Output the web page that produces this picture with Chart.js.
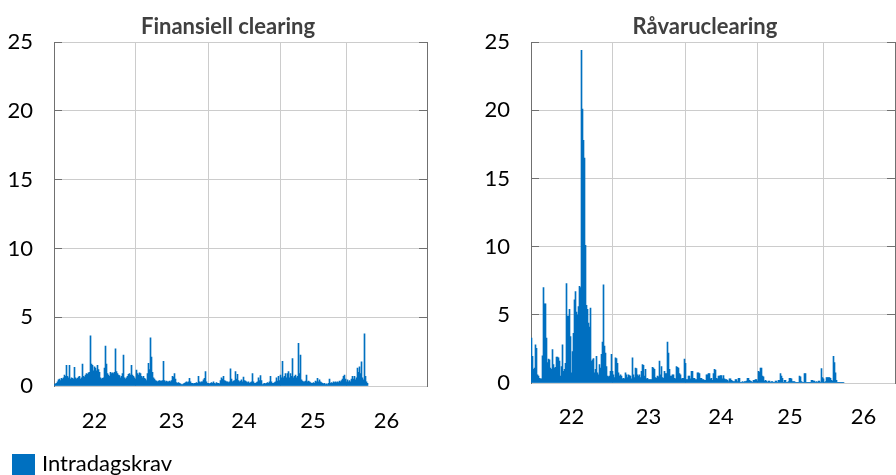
<!DOCTYPE html>
<html>
<head>
<meta charset="utf-8">
<script src="https://cdn.jsdelivr.net/npm/chart.js@4.4.1/dist/chart.umd.min.js"></script>
<style>
    body { margin: 0; background: #fff; width: 896px; height: 475px; overflow: hidden; position: relative; font-family: Lato, sans-serif; }
    canvas { position: absolute; top: 0; }
    #fin { left: 0; }
    #rav { left: 440px; }
    .legend { position: absolute; left: 12px; top: 452px; display: flex; align-items: center; font-size: 22px; color: #000; }
    .legend .box { width: 23px; height: 23px; background: #0070c0; margin-right: 7px; }
    .legend .txt { position: relative; top: -3px; }
</style>
</head>
<body>
<canvas id="fin" width="456" height="450"></canvas>
<canvas id="rav" width="530" height="450"></canvas>
<div class="legend"><span class="box"></span><span class="txt">Intradagskrav</span></div>

<script>
// årsetiketter og hvor årsskiftene ligger på x-aksen (i datapunkt-enheter)
const yearLabels = ['22', '23', '24', '25', '26'];
const yearBounds = [81, 154, 226, 292];
const yearMids = [40.5, 117.5, 190, 259, 332.5];
const yTicks = [0, 5, 10, 15, 20, 25];

// Finansiell clearing, mrd. kroner
const finValues = [
    0.1, 0.15, 0.2, 0.3, 0.45, 0.5, 0.4, 0.55, 0.5, 0.6,
    0.8, 0.7, 1.5, 0.7, 0.6, 1.5, 0.5, 0.6, 0.55, 0.5,
    1.35, 0.6, 0.5, 0.55, 0.65, 0.7, 0.5, 0.6, 1.6, 0.7,
    0.65, 0.8, 0.9, 0.85, 0.95, 1.0, 3.65, 1.6, 1.5, 1.1,
    1.4, 1.3, 1.1, 1.5, 1.2, 1.0, 0.6, 0.5, 0.55, 0.6,
    1.3, 2.9, 1.6, 0.9, 0.8, 0.7, 1.0, 0.9, 0.95, 0.9,
    1.0, 2.7, 1.05, 0.9, 0.8, 0.75, 0.6, 0.7, 0.9, 2.25,
    0.6, 0.5, 0.6, 0.7, 0.85, 0.9, 0.8, 1.5, 0.8, 0.7,
    0.6, 0.5, 1.15, 0.9, 0.8, 0.95, 0.9, 0.7, 0.6, 0.7,
    0.55, 0.5, 0.4, 0.9, 1.65, 1.2, 3.5, 2.1, 1.0, 0.6,
    0.5, 0.4, 0.35, 0.3, 0.35, 0.4, 0.35, 0.35, 0.4, 1.8,
    0.4, 0.3, 0.35, 0.3, 0.3, 0.35, 0.3, 0.4, 0.7, 0.65,
    0.9, 0.5, 0.25, 0.2, 0.25, 0.2, 0.15, 0.1, 0.1, 0.15,
    0.2, 0.25, 0.3, 0.25, 0.3, 0.55, 0.3, 0.2, 0.2, 0.15,
    0.2, 0.2, 0.25, 0.2, 0.7, 0.3, 0.25, 0.3, 0.3, 0.45,
    0.55, 1.05, 0.3, 0.2, 0.2, 0.15, 0.2, 0.25, 0.2, 0.3,
    0.2, 0.15, 0.25, 0.2, 0.2, 0.15, 0.4, 0.6, 0.5, 0.7,
    0.4, 0.35, 0.3, 0.3, 0.25, 0.3, 1.25, 0.5, 0.3, 0.35,
    0.4, 1.05, 0.5, 0.85, 0.4, 0.3, 0.35, 0.45, 0.3, 0.65,
    0.4, 0.35, 0.3, 0.25, 0.3, 0.2, 0.25, 0.3, 0.9, 0.3,
    0.2, 0.2, 0.25, 0.3, 0.6, 0.4, 0.75, 0.4, 0.1, 0.15,
    0.2, 0.15, 0.2, 0.25, 0.2, 0.3, 0.7, 0.3, 0.2, 0.2,
    0.25, 0.3, 0.6, 0.35, 0.7, 0.4, 0.8, 0.6, 1.8, 0.6,
    0.7, 0.9, 0.6, 0.9, 1.05, 0.6, 0.9, 0.7, 2.0, 0.6,
    0.7, 0.8, 0.6, 0.7, 3.1, 0.9, 2.25, 0.45, 0.35, 0.3,
    0.3, 0.35, 0.8, 0.3, 0.35, 0.3, 0.25, 0.2, 0.2, 0.25,
    0.2, 0.35, 0.3, 0.55, 0.3, 0.45, 0.3, 0.25, 0.2, 0.15,
    0.2, 0.1, 0.15, 0.1, 0.2, 0.5, 0.2, 0.25, 0.2, 0.3,
    0.25, 0.3, 0.25, 0.3, 0.25, 0.35, 0.3, 0.4, 0.5, 0.7,
    0.8, 0.5, 0.3, 0.45, 0.3, 0.4, 0.3, 0.5, 0.7, 0.5,
    0.7, 0.45, 0.6, 1.3, 1.0, 1.4, 0.9, 1.75, 0.6, 0.45,
    3.8, 0.7, 0.3, 0.2
];

// Råvareclearing, mrd. kroner
const ravValues = [
    3.3, 1.95, 1.0, 1.1, 2.8, 2.55, 0.6, 0.5, 0.35, 0.3,
    0.3, 2.0, 7.0, 5.8, 5.8, 3.3, 1.5, 1.75, 1.7, 1.1,
    1.0, 2.45, 1.35, 1.1, 1.15, 1.9, 1.9, 1.85, 1.6, 0.5,
    1.2, 2.8, 0.85, 1.0, 1.45, 7.3, 4.9, 4.9, 5.4, 3.4,
    0.75, 2.3, 3.65, 6.1, 6.7, 5.2, 5.0, 5.6, 7.1, 7.0,
    24.4, 20.1, 17.8, 16.5, 10.1, 5.7, 5.4, 4.4, 4.1, 5.5,
    1.6, 1.7, 1.8, 0.75, 1.0, 1.95, 0.75, 0.6, 1.35, 1.1,
    2.1, 3.0, 7.2, 2.7, 2.2, 1.2, 0.5, 0.45, 0.5, 0.85,
    2.1, 0.85, 0.6, 0.4, 1.85, 1.8, 1.45, 0.75, 0.5, 0.6,
    0.5, 0.3, 0.35, 0.3, 0.75, 0.6, 0.4, 0.6, 0.55, 0.5,
    0.3, 1.85, 0.6, 0.4, 1.1, 1.05, 0.6, 0.5, 0.6, 0.4,
    0.85, 1.35, 1.3, 0.5, 1.0, 0.3, 0.35, 0.25, 0.25, 0.25,
    0.25, 1.15, 1.1, 1.0, 0.4, 0.35, 0.5, 0.45, 1.6, 0.6,
    1.2, 0.4, 0.35, 0.85, 0.7, 0.7, 3.0, 2.2, 1.0, 0.5,
    0.5, 0.6, 0.6, 0.35, 0.3, 1.2, 1.15, 1.1, 0.7, 0.6,
    0.3, 0.35, 0.35, 1.75, 1.45, 0.25, 0.25, 0.5, 0.5, 0.3,
    0.85, 0.85, 0.35, 0.35, 0.25, 0.25, 0.75, 0.75, 0.7, 0.35,
    0.35, 0.25, 0.25, 0.2, 0.2, 0.6, 0.6, 0.7, 0.7, 0.3,
    0.35, 0.2, 0.7, 1.0, 0.95, 0.35, 0.3, 0.5, 0.5, 0.55,
    0.55, 0.3, 0.55, 0.3, 0.25, 0.25, 0.2, 0.1, 0.3, 0.3,
    0.2, 0.15, 0.1, 0.1, 0.25, 0.25, 0.1, 0.35, 0.35, 0.05,
    0.05, 0.1, 0.05, 0.1, 0.1, 0.15, 0.35, 0.35, 0.2, 0.15,
    0.1, 0.05, 0.2, 0.2, 0.25, 0.25, 0.15, 0.85, 0.8, 1.1,
    1.1, 0.5, 0.45, 0.15, 0.2, 0.15, 0.05, 0.15, 0.15, 0.05,
    0.1, 0.1, 0.05, 0.05, 0.15, 0.15, 0.05, 0.2, 0.2, 0.7,
    0.5, 0.35, 0.05, 0.2, 0.2, 0.05, 0.05, 0.1, 0.35, 0.35,
    0.3, 0.1, 0.1, 0.1, 0.05, 0.05, 0.05, 0.05, 0.5, 0.45,
    0.1, 0.05, 0.05, 0.7, 0.7, 0.05, 0.05, 0.05, 0.05, 0.05,
    0.2, 0.2, 0.15, 0.15, 0.05, 0.1, 0.05, 0.15, 0.15, 0.05,
    1.05, 0.4, 0.3, 0.05, 0.1, 0.4, 0.4, 0.4, 0.4, 0.35,
    0.2, 0.15, 1.95, 1.5, 0.75, 0.2, 0.05, 0.05, 0.05, 0.05,
    0.05, 0.05, 0.05
];

const BLUE = '#0070c0';
const GRID = '#cccccc';
const AXIS = '#707070';

function makeChart(canvasId, title, values, o) {
    const ctx = document.getElementById(canvasId).getContext('2d');

    return new Chart(ctx, {
        type: 'bar',
        data: {
            datasets: [{
                label: 'Intradagskrav',
                data: values.map((v, i) => ({ x: i + 0.5, y: v })),
                backgroundColor: BLUE,
                borderWidth: 0,
                barPercentage: 1,
                categoryPercentage: 1
            }]
        },
        options: {
            responsive: false,
            animation: false,
            devicePixelRatio: 1,
            layout: { padding: 0 },
            plugins: {
                legend: { display: false },
                tooltip: { enabled: false },
                title: {
                    display: true,
                    text: title,
                    color: '#404040',
                    font: { family: 'Lato', size: 22, weight: 'bold' },
                    padding: { top: 14, bottom: 1.6 }
                }
            },
            scales: {
                x: {
                    type: 'linear',
                    min: 0,
                    max: o.xMax,
                    offset: false,
                    afterBuildTicks: s => {
                        s.ticks = [...yearBounds, ...yearMids].sort((a, b) => a - b).map(v => ({ value: v }));
                    },
                    afterFit: s => { s.height = o.xH; },
                    grid: {
                        offset: false,
                        drawTicks: false,
                        color: c => (c.tick && yearBounds.includes(c.tick.value)) ? GRID : 'rgba(0,0,0,0)'
                    },
                    border: { color: GRID },
                    ticks: {
                        autoSkip: false,
                        maxRotation: 0,
                        padding: o.xPad,
                        color: '#000',
                        font: { family: 'Lato', size: 22 },
                        callback: v => {
                            const k = yearMids.indexOf(v);
                            return k < 0 ? '' : yearLabels[k];
                        }
                    }
                },
                y: {
                    min: 0,
                    max: 25,
                    afterBuildTicks: s => { s.ticks = yTicks.map(v => ({ value: v })); },
                    afterFit: s => { s.width = o.yW; },
                    grid: { color: GRID, tickLength: -8, tickColor: AXIS },
                    border: { color: AXIS },
                    ticks: { padding: 29, color: '#000', font: { family: 'Lato', size: 22 } }
                },
                y2: {
                    position: 'right',
                    min: 0,
                    max: 25,
                    afterBuildTicks: s => { s.ticks = yTicks.map(v => ({ value: v })); },
                    afterFit: s => { s.width = o.y2W; },
                    grid: { drawOnChartArea: false, tickLength: -8, tickColor: AXIS },
                    border: { color: AXIS },
                    ticks: { display: false }
                }
            }
        }
    });
}

makeChart('fin', 'Finansiell clearing', finValues, { yW: 54, y2W: 29, xMax: 373, xH: 64, xPad: 22 });
makeChart('rav', 'Råvaruclearing', ravValues, { yW: 91, y2W: 75, xMax: 364, xH: 67, xPad: 21 });
</script>
</body>
</html>
